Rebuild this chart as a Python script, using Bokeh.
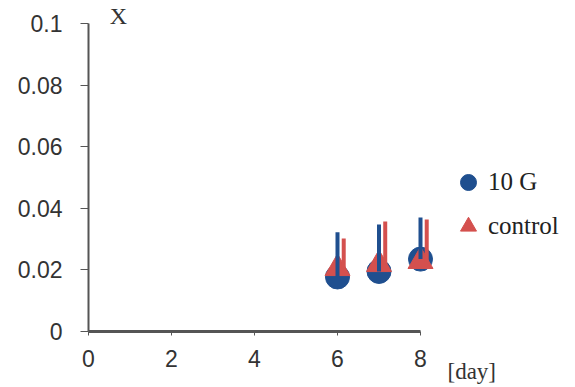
from bokeh.plotting import figure
from bokeh.models import ColumnDataSource, Range1d, Label, Legend, LegendItem, FixedTicker, Title
from bokeh.transform import dodge
from bokeh.embed import file_html
from bokeh.resources import INLINE

days = [6, 7, 8]
g10_mean = [0.0177, 0.0195, 0.0235]
g10_upper = [0.0322, 0.0347, 0.0370]
ctrl_mean = [0.0205, 0.0218, 0.0228]
ctrl_upper = [0.0302, 0.0357, 0.0364]
x_ticks = [0, 2, 4, 6, 8]
y_ticks = [0, 0.02, 0.04, 0.06, 0.08, 0.1]
y_tick_labels = {0: "0", 0.02: "0.02", 0.04: "0.04", 0.06: "0.06", 0.08: "0.08", 0.1: "0.1"}

BLUE = "#1f4f8f"
RED = "#d4504e"

src = ColumnDataSource(dict(day=days, g=g10_mean, gu=g10_upper, c=ctrl_mean, cu=ctrl_upper))

# frame extends past the axis ends so that legend and labels are not clipped
p = figure(width=575, height=387, output_backend="svg", toolbar_location=None,
           x_range=Range1d(0, 482 / 41.5), y_range=Range1d(0, 0.1 * 326 / 308),
           frame_width=482, frame_height=326,
           min_border_left=88, min_border_right=5, min_border_top=5, min_border_bottom=56)
p.outline_line_color = None
p.xgrid.visible = False
p.ygrid.visible = False
p.background_fill_color = "white"

r1 = p.scatter("day", "g", source=src, size=24, marker="circle", fill_color=BLUE, line_color=BLUE)
r2 = p.scatter("day", "c", source=src, size=25, marker="triangle", fill_color=RED, line_color=RED)
p.segment(x0="day", y0="g", x1="day", y1="gu", source=src, line_color=BLUE, line_width=4)
p.segment(x0=dodge("day", 0.15, range=p.x_range), y0="c", x1=dodge("day", 0.15, range=p.x_range), y1="cu",
          source=src, line_color=RED, line_width=4)

for ax in (p.xaxis[0], p.yaxis[0]):
    ax.axis_line_color = "#555555"
    ax.axis_line_width = 2
    ax.major_tick_line_color = "#555555"
    ax.minor_tick_line_color = None
    ax.major_label_text_font = "Liberation Sans"
    ax.major_label_text_font_size = "23px"
    ax.major_label_text_color = "#333333"

p.xaxis.ticker = FixedTicker(ticks=x_ticks)
p.xaxis.bounds = (0, 8)
p.xaxis.axis_line_width = 3
p.xaxis.major_tick_out = 4
p.xaxis.major_tick_in = 0
p.xaxis.major_label_standoff = 14
p.yaxis.ticker = FixedTicker(ticks=y_ticks)
p.yaxis.bounds = (0, 0.1)
p.yaxis.major_label_overrides = y_tick_labels
p.yaxis.major_tick_out = 8
p.yaxis.major_tick_in = 0
p.yaxis.major_label_standoff = 18

p.add_layout(Label(x=0.72, y=0.1, text="X", text_font="Liberation Serif", text_font_size="24px",
                   text_color="#333333", text_align="center", text_baseline="bottom", y_offset=-5))
p.add_layout(Title(text="[day]", align="left", offset=359, standoff=-25, text_font="Liberation Serif",
                   text_font_size="23px", text_font_style="normal", text_color="#333333"), "below")

legend = Legend(items=[LegendItem(label="10 G", renderers=[r1]), LegendItem(label="control", renderers=[r2])],
                location=(360, 83), label_text_font="Liberation Serif", label_text_font_size="25px",
                label_text_color="#222222", border_line_color=None, background_fill_alpha=0,
                spacing=0, padding=0, glyph_width=40, glyph_height=44, label_standoff=0, margin=0)
p.add_layout(legend, "center")

open("out.html", "w").write(file_html(p, INLINE))
